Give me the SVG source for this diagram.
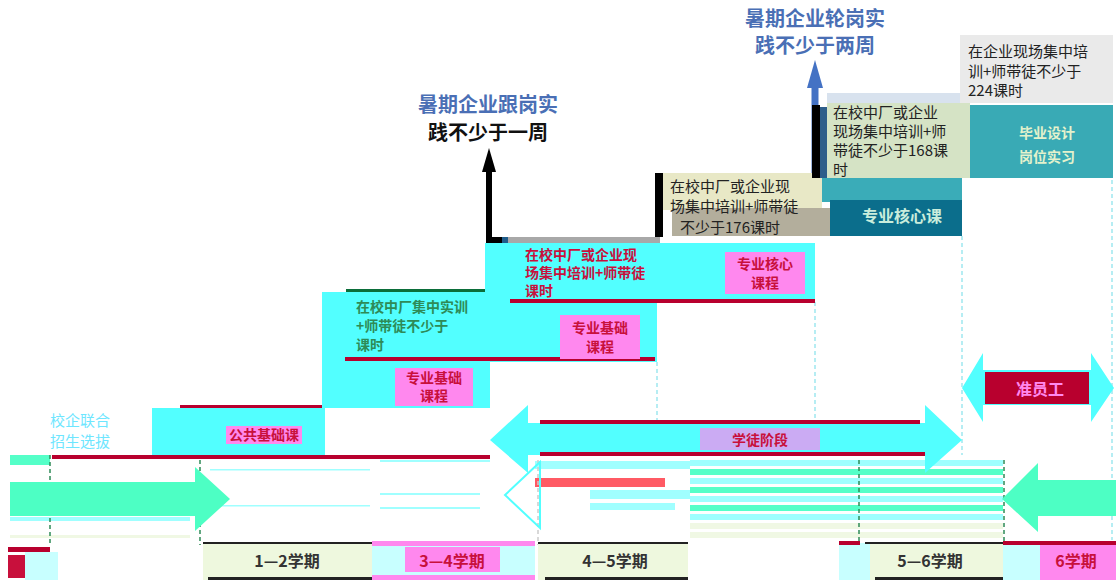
<svg xmlns="http://www.w3.org/2000/svg" width="1116" height="583" viewBox="0 0 1116 583">
<style>
text{font-family:"Noto Sans CJK SC","Noto Sans",sans-serif}
.step{fill:#52FFFF}
.redl{fill:#B8002E}
.pink{fill:#FF88EE}
.glt{font-size:14px;font-weight:bold;fill:#C8103C}
.grn{font-size:14px;font-weight:bold;fill:#2E8B57}
.ann{font-size:15px;fill:#222}
.ttl{font-size:20px;font-weight:bold;text-anchor:middle}
.lbl{font-size:16px;font-weight:bold;text-anchor:middle}
.dash{stroke-dasharray:4 3;stroke-width:1.5;fill:none}
</style>
<rect width="1116" height="583" fill="#fff"/>

<g id="stripes">
<rect x="690" y="460" width="313" height="6" fill="#9FFFFF"/>
<rect x="690" y="469" width="313" height="6" fill="#55FFC8"/>
<rect x="690" y="478" width="313" height="6" fill="#9FFFFF"/>
<rect x="690" y="487" width="313" height="6" fill="#55FFC8"/>
<rect x="690" y="496" width="313" height="6" fill="#9FFFFF"/>
<rect x="690" y="505" width="313" height="6" fill="#55FFC8"/>
<rect x="690" y="514" width="313" height="6" fill="#9FFFFF"/>
<rect x="690" y="523" width="313" height="6" fill="#F0F8E4"/>
<rect x="690" y="532" width="313" height="6" fill="#F0F8E4"/>
<rect x="535" y="461" width="155" height="8" fill="#A0FFFF"/>
<rect x="535" y="478" width="130" height="9" fill="#FF5A64"/>
<rect x="590" y="490" width="100" height="9" fill="#A0FFFF"/>
<rect x="590" y="503" width="85" height="7" fill="#A0FFFF"/>
<rect x="380" y="460" width="110" height="2" fill="#A0FFFF"/>
<rect x="380" y="493" width="100" height="2" fill="#A0FFFF"/>
<rect x="380" y="507" width="100" height="2" fill="#A0FFFF"/>
<rect x="210" y="469" width="160" height="1.5" fill="#A0FFFF"/>
<rect x="210" y="505" width="160" height="1.5" fill="#A0FFFF"/>
<rect x="10" y="455" width="40" height="10" fill="#55FFC8"/>
<rect x="10" y="517" width="180" height="4" fill="#A0FFFF"/>
<rect x="10" y="535" width="180" height="3" fill="#F0F8E4"/>
</g>

<g id="connectors">
<path class="dash" stroke="#2E8B57" d="M200 460V545"/>
<path class="dash" stroke="#2E8B57" d="M50 455V545"/>
<path class="dash" stroke="#2E8B57" d="M859 460V545"/>
<path class="dash" stroke="#2E8B57" d="M1004 460V545"/>
<path class="dash" stroke="#9FE8F0" d="M657 362V420"/>
<path class="dash" stroke="#9FE8F0" d="M815 302V420"/>
<path class="dash" stroke="#9FE8F0" d="M962 236V455"/>
<path class="dash" stroke="#9FE8F0" d="M1112 180V540"/>
<path class="dash" stroke="#ccc" d="M538 460V545"/>
<polygon fill="#4DFFC4" points="10,482 195,482 195,467 230,499 195,531 195,516 10,516"/>
<polygon fill="#4DFFC4" points="1116,480 1038,480 1038,463 1002,499 1038,532 1038,516 1116,516"/>
<polygon fill="none" stroke="#52FFFF" stroke-width="2" points="540,462 505,495 540,528"/>
<polygon class="step" points="490,440 528,405 528,423 925,423 925,405 962,440 925,473 925,455 528,455 528,473"/>
<rect x="540" y="420" width="380" height="4" class="redl"/>
<rect x="540" y="452" width="385" height="4" class="redl"/>
<polygon class="step" points="962,388 983,353 983,370 1091,370 1091,353 1114,388 1091,422 1091,405 983,405 983,422"/>
<rect x="985" y="372" width="104" height="32" class="redl"/>
<path d="M489 243V170" stroke="#000" stroke-width="6" fill="none"/>
<path d="M486 240H505" stroke="#000" stroke-width="6" fill="none"/>
<polygon points="489,148 482,172 496,172" fill="#000"/>
<rect x="502" y="237" width="6" height="6" fill="#1F5C8A"/>
<rect x="508" y="237" width="152" height="6" fill="#A8A8A8"/>
<path d="M815 178V85" stroke="#4472C4" stroke-width="7" fill="none"/>
<polygon points="815,60 807,88 823,88" fill="#4472C4"/>
</g>

<g id="title-rotation">
<text class="ttl" x="815" y="26" fill="#4A6FB5">暑期企业轮岗实</text>
<text class="ttl" x="815" y="53" fill="#4A6FB5">践不少于两周</text>
</g>
<g id="title-follow">
<text class="ttl" x="488" y="112" fill="#4A6FB5">暑期企业跟岗实</text>
<text class="ttl" x="488" y="140" fill="#111">践不少于一周</text>
</g>

<g id="enroll">
<text x="50" y="426" font-size="15" fill="#6EE6FF">校企联合</text>
<text x="50" y="447" font-size="15" fill="#6EE6FF">招生选拔</text>
<rect x="52" y="455" width="438" height="4" class="redl"/>
</g>

<g id="step1">
<rect x="152" y="408" width="173" height="47" class="step"/>
<rect x="180" y="405" width="192" height="3" class="redl"/>
<rect x="226" y="426" width="76" height="18" class="pink"/>
<text class="glt" x="264" y="440" text-anchor="middle">公共基础课</text>
</g>
<g id="step2">
<rect x="322" y="362" width="168" height="46" class="step"/>
<rect x="395" y="368" width="78" height="38" class="pink"/>
<text class="glt" x="434" y="383" text-anchor="middle">专业基础</text>
<text class="glt" x="434" y="401" text-anchor="middle">课程</text>
</g>
<g id="step3">
<rect x="322" y="292" width="335" height="70" class="step"/>
<rect x="346" y="289" width="164" height="3" fill="#0B6E3A"/>
<rect x="345" y="357" width="310" height="4" class="redl"/>
<text class="grn" x="356" y="312">在校中厂集中实训</text>
<text class="grn" x="356" y="331">+师带徒不少于</text>
<text class="grn" x="356" y="350">课时</text>
<rect x="560" y="315" width="80" height="44" class="pink"/>
<text class="glt" x="600" y="333" text-anchor="middle">专业基础</text>
<text class="glt" x="600" y="352" text-anchor="middle">课程</text>
</g>
<g id="step4">
<rect x="485" y="243" width="330" height="58" class="step"/>
<rect x="510" y="299" width="305" height="4" class="redl"/>
<text class="glt" font-size="13" x="525" y="260">在校中厂或企业现</text>
<text class="glt" font-size="13" x="525" y="278">场集中培训+师带徒</text>
<text class="glt" font-size="13" x="525" y="296">课时</text>
<rect x="725" y="252" width="80" height="42" class="pink"/>
<text class="glt" x="765" y="269" text-anchor="middle">专业核心</text>
<text class="glt" x="765" y="288" text-anchor="middle">课程</text>
</g>

<g id="core">
<rect x="820" y="178" width="142" height="24" fill="#3AACB8"/>
<rect x="830" y="200" width="132" height="36" fill="#0B6E8C"/>
<text x="902" y="222" font-size="16" font-weight="bold" fill="#C9EDDC" text-anchor="middle">专业核心课</text>
</g>

<g id="note176">
<rect x="655" y="173" width="8" height="64" fill="#000"/>
<rect x="663" y="173" width="159" height="37" fill="#E8E8C6"/>
<rect x="672" y="208" width="158" height="28" fill="#B3AE9C"/>
<text class="ann" font-size="16" x="670" y="192">在校中厂或企业现</text>
<text class="ann" font-size="16" x="670" y="212">场集中培训+师带徒</text>
<text class="ann" font-size="16" x="680" y="233">不少于176课时</text>
</g>

<g id="note168">
<rect x="812" y="105" width="8" height="73" fill="#000"/>
<rect x="820" y="107" width="7" height="71" fill="#2E5E8A"/>
<rect x="827" y="93" width="133" height="14" fill="#D8E2EE"/>
<rect x="827" y="103" width="143" height="75" fill="#D5E3C5"/>
<text class="ann" x="833" y="118">在校中厂或企业</text>
<text class="ann" x="833" y="137">现场集中培训+师</text>
<text class="ann" x="833" y="156">带徒不少于168课</text>
<text class="ann" x="833" y="175">时</text>
</g>

<g id="graduation">
<rect x="970" y="105" width="143" height="73" fill="#39AAB5"/>
<text x="1047" y="138" font-size="14" font-weight="bold" fill="#E4F2CC" text-anchor="middle">毕业设计</text>
<text x="1047" y="162" font-size="14" font-weight="bold" fill="#E4F2CC" text-anchor="middle">岗位实习</text>
</g>

<g id="note224">
<rect x="960" y="35" width="153" height="68" fill="#EAEAEA"/>
<text class="ann" font-size="16" x="968" y="57">在企业现场集中培</text>
<text class="ann" font-size="16" x="968" y="77">训+师带徒不少于</text>
<text class="ann" font-size="16" x="968" y="96">224课时</text>
</g>

<g id="stage-mid">
<rect x="700" y="428" width="120" height="22" fill="#FF88EE" opacity="0.7"/>
<text class="glt" x="760" y="445" text-anchor="middle" font-size="16">学徒阶段</text>
</g>
<g id="stage-right">
<text x="1040" y="395" font-size="16" font-weight="bold" fill="#FF88EE" text-anchor="middle">准员工</text>
</g>

<g id="bottom-labels">
<rect x="8" y="555" width="17" height="23" fill="#C8103C"/>
<rect x="25" y="552" width="33" height="28" fill="#C8FFFF"/>
<rect x="8" y="547" width="42" height="5" class="redl"/>
<rect x="203" y="543" width="169" height="37" fill="#EEF8DE"/>
<rect x="203" y="542" width="169" height="2" fill="#222"/>
<rect x="208" y="577" width="164" height="3" fill="#222"/>
<text class="lbl" x="287" y="567" fill="#333">1—2学期</text>
<rect x="372" y="543" width="163" height="37" fill="#C8FFFF"/>
<rect x="372" y="541" width="163" height="5" class="pink"/>
<rect x="372" y="575" width="163" height="5" class="pink"/>
<rect x="405" y="547" width="95" height="25" class="pink"/>
<text class="lbl" x="452" y="567" fill="#C8103C">3—4学期</text>
<rect x="538" y="543" width="150" height="37" fill="#EEF8DE"/>
<rect x="538" y="542" width="150" height="2" fill="#222"/>
<rect x="545" y="577" width="143" height="3" fill="#222"/>
<text class="lbl" x="615" y="567" fill="#333">4—5学期</text>
<rect x="839" y="543" width="31" height="37" fill="#C8FFFF"/>
<rect x="839" y="541" width="21" height="4" class="redl"/>
<rect x="870" y="543" width="133" height="37" fill="#EEF8DE"/>
<rect x="865" y="542" width="138" height="2" fill="#222"/>
<rect x="875" y="577" width="128" height="3" fill="#222"/>
<text class="lbl" x="930" y="567" fill="#333">5—6学期</text>
<rect x="1003" y="543" width="37" height="37" fill="#C8FFFF"/>
<rect x="1040" y="543" width="76" height="37" class="pink"/>
<rect x="1003" y="541" width="113" height="4" class="redl"/>
<text class="lbl" x="1076" y="567" fill="#C8103C">6学期</text>
</g>
</svg>
